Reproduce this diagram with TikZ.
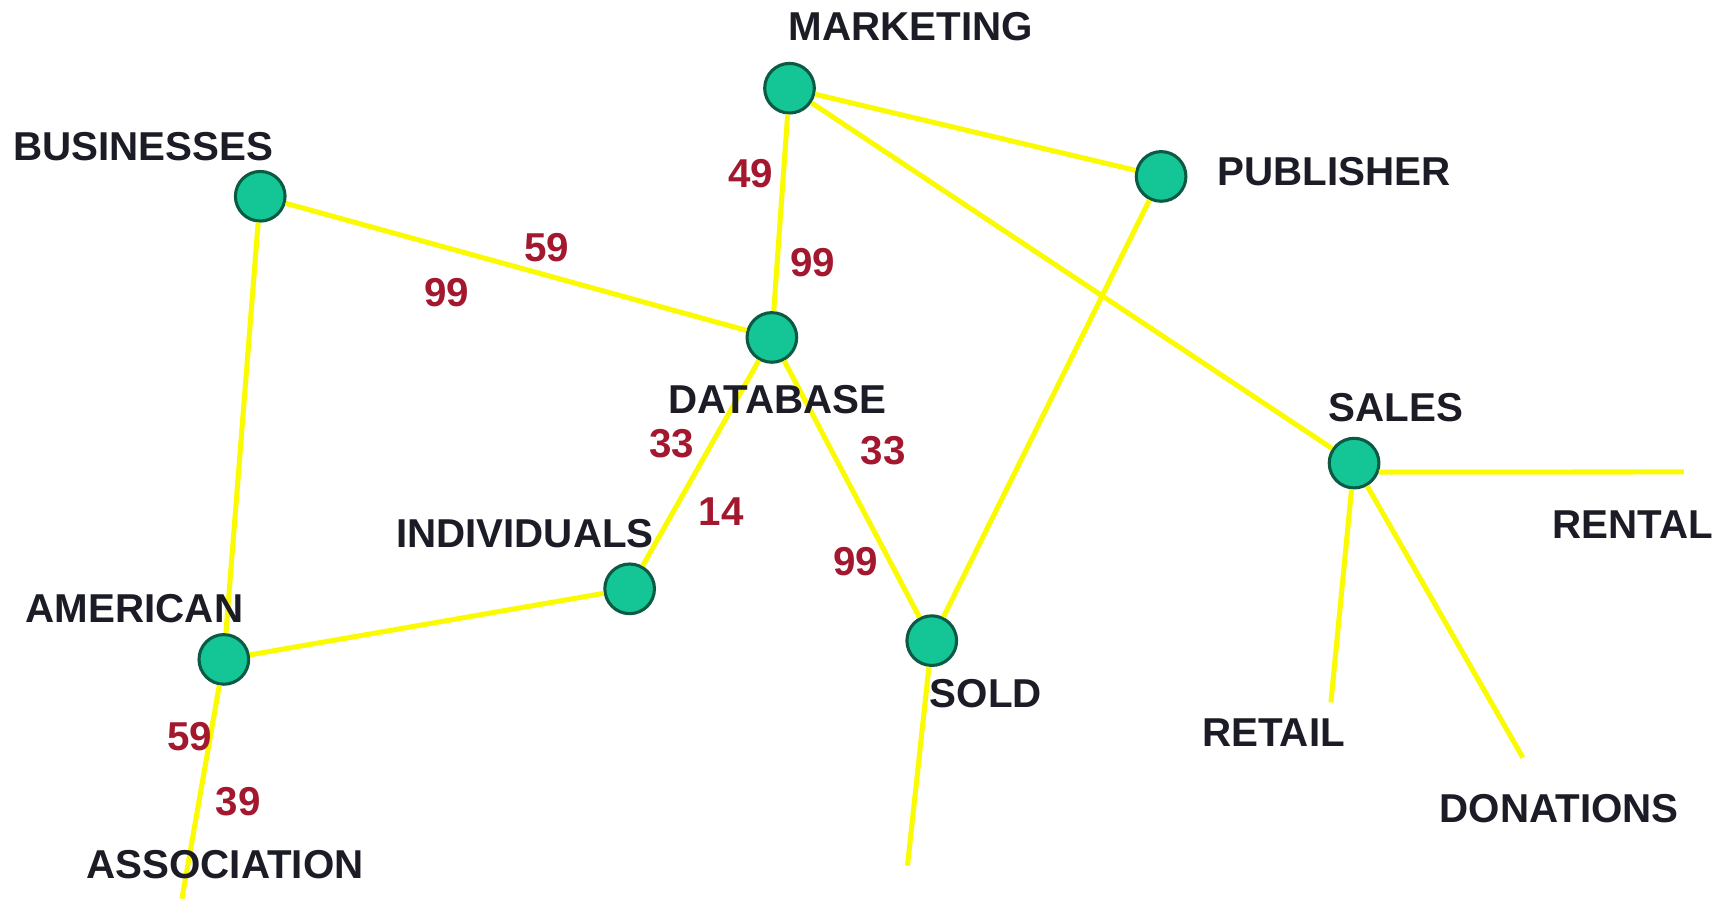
\documentclass[tikz,border=0pt]{standalone}
\usepackage{fontspec}
\setmainfont{Liberation Sans}
\usepackage{xcolor}
\usepackage{tikz}
\usetikzlibrary{positioning}
\definecolor{HubGreen}{HTML}{14C596}
\definecolor{HubEdge}{HTML}{0C5A44}
\definecolor{WireYellow}{HTML}{FAFA00}
\definecolor{WeightRed}{HTML}{A3182F}
\definecolor{LabelInk}{HTML}{1C1C26}

\begin{document}
\begin{tikzpicture}[
      x=0.01cm, y=-0.01cm,
      hub/.style={circle, draw=HubEdge, line width=0.8pt, fill=HubGreen, minimum size=0.45cm, inner sep=0pt},
      tag/.style={font=\fontsize{10.4}{12}\selectfont\bfseries, text=LabelInk, inner sep=0pt},
      weight/.style={font=\fontsize{10.4}{12}\selectfont\bfseries, text=WeightRed, inner sep=0pt},
      wire/.style={WireYellow, line width=1.3pt}
    ]
      \useasboundingbox (0,0) rectangle (1568,815);

      % Hubs
      \node[hub] (marketing) at (716,80) {};
      \node[hub] (businesses) at (236,178) {};
      \node[hub] (publisher) at (1053,160) {};
      \node[hub] (database) at (700,306) {};
      \node[hub] (sales) at (1228,420) {};
      \node[hub] (individuals) at (571,534) {};
      \node[hub] (sold) at (845,581) {};
      \node[hub] (american) at (203,598) {};

      % Loose ends
      \coordinate (rentalEnd) at (1527,428);
      \coordinate (retailEnd) at (1207,637);
      \coordinate (donationsEnd) at (1381,687);
      \coordinate (soldEnd) at (823,785);
      \coordinate (associationEnd) at (165,815);

      % Links
      \draw[wire] (marketing) -- (publisher);
      \draw[wire] (marketing) -- (sales);
      \draw[wire] (marketing) -- (database);
      \draw[wire] (businesses) -- (database);
      \draw[wire] (businesses) -- (american);
      \draw[wire] (database) -- (individuals);
      \draw[wire] (database) -- (sold);
      \draw[wire] (individuals) -- (american);
      \draw[wire] (publisher) -- (sold);
      \draw[wire] (sold) -- (soldEnd);
      \draw[wire] (american) -- (associationEnd);
      \draw[wire] (sales.-20) -- (rentalEnd);
      \draw[wire] (sales) -- (retailEnd);
      \draw[wire] (sales) -- (donationsEnd);

      % Labels
      \node[tag] (marketingTag) at (826,24) {MARKETING};
      \node[tag] (businessesTag) at (130,133) {BUSINESSES};
      \node[tag] (publisherTag) at (1210,156) {PUBLISHER};
      \node[tag] (databaseTag) at (705,362) {DATABASE};
      \node[tag] (salesTag) at (1266,370) {SALES};
      \node[tag] (rentalTag) at (1481,476) {RENTAL};
      \node[tag] (individualsTag) at (476,484) {INDIVIDUALS};
      \node[tag] (americanTag) at (122,552) {AMERICAN};
      \node[tag] (soldTag) at (894,629) {SOLD};
      \node[tag] (retailTag) at (1155,664) {RETAIL};
      \node[tag] (donationsTag) at (1414,733) {DONATIONS};
      \node[tag] (associationTag) at (204,784) {ASSOCIATION};

      % Weights
      \node[weight] (wMktDb) at (681,157) {49};
      \node[weight] (wDbMkt) at (737,238) {99};
      \node[weight] (wBusDb) at (496,225) {59};
      \node[weight] (wDbBus) at (405,265) {99};
      \node[weight] (wDbInd) at (609,402) {33};
      \node[weight] (wIndDb) at (654,464) {14};
      \node[weight] (wDbSold) at (801,409) {33};
      \node[weight] (wSoldDb) at (776,509) {99};
      \node[weight] (wAmAs) at (172,668) {59};
      \node[weight] (wAsAm) at (216,727) {39};

    \end{tikzpicture}
\end{document}
